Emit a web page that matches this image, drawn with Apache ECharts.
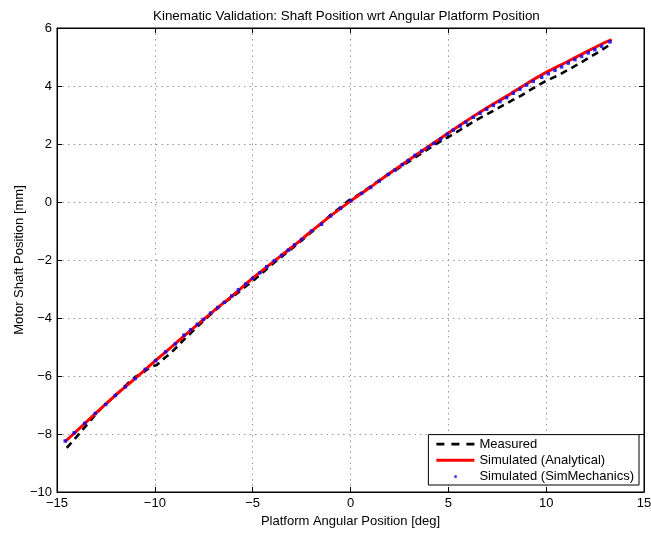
<!DOCTYPE html>
<html>
<head>
<meta charset="utf-8">
<title>Kinematic Validation</title>
<script src="https://cdn.jsdelivr.net/npm/echarts@6/dist/echarts.min.js"></script>
<style>
  html, body { margin: 0; padding: 0; background: #fff; }
  #chart { width: 651px; height: 533px; }
</style>
</head>
<body>
<div id="chart"></div>
<script>
// measured shaft position (black dashed)
const measuredX = [-14.5, -14.2, -14.0, -13.6, -13.3, -13.0, -12.6, -12.2, -11.8, -11.4, -11.0, -10.6, -10.2, -9.9, -9.5, -9.2, -8.8, -8.5, -8.1, -7.7, -7.3, -6.9, -6.5, -6.1, -5.7, -5.3, -4.9, -4.5, -4.1, -3.7, -3.3, -2.9, -2.5, -2.1, -1.7, -1.3, -0.9, -0.5, -0.1, 0.3, 0.7, 1.1, 1.5, 1.9, 2.3, 2.7, 3.1, 3.5, 3.9, 4.3, 4.7, 5.1, 5.5, 5.9, 6.3, 6.7, 7.1, 7.5, 7.9, 8.3, 8.7, 9.1, 9.5, 9.9, 10.3, 10.7, 11.1, 11.5, 11.9, 12.3, 12.7, 13.0, 13.35];
const measuredY = [-8.48, -8.25, -8.10, -7.78, -7.55, -7.30, -7.02, -6.78, -6.53, -6.27, -6.03, -5.88, -5.68, -5.62, -5.38, -5.22, -4.95, -4.74, -4.48, -4.22, -3.97, -3.72, -3.50, -3.30, -3.10, -2.88, -2.67, -2.44, -2.20, -1.98, -1.77, -1.55, -1.33, -1.10, -0.86, -0.62, -0.38, -0.18, 0.05, 0.20, 0.38, 0.57, 0.76, 0.94, 1.10, 1.27, 1.44, 1.62, 1.80, 1.97, 2.13, 2.28, 2.44, 2.61, 2.78, 2.93, 3.07, 3.22, 3.37, 3.52, 3.66, 3.83, 3.99, 4.14, 4.27, 4.40, 4.55, 4.70, 4.86, 5.02, 5.18, 5.31, 5.47];

// analytical model (red)
const analyticalX = [-14.6, -14, -13, -12, -11, -10, -9, -8, -7, -6, -5, -4, -3, -2, -1, 0, 1, 2, 3, 4, 5, 6, 7, 8, 9, 10, 11, 12, 13, 13.35];
const analyticalY = [-8.27, -7.90, -7.27, -6.66, -6.08, -5.49, -4.91, -4.33, -3.76, -3.21, -2.63, -2.09, -1.56, -1.01, -0.47, 0.03, 0.50, 0.99, 1.46, 1.92, 2.38, 2.83, 3.26, 3.66, 4.08, 4.47, 4.81, 5.16, 5.50, 5.60];

// SimMechanics samples (blue dots)
const simX = [-14.58, -14.12, -13.58, -13.04, -12.51, -12.02, -11.51, -11.01, -10.49, -9.96, -9.45, -8.95, -8.51, -8.17, -7.83, -7.52, -7.15, -6.79, -6.45, -6.07, -5.73, -5.36, -5.0, -4.63, -4.28, -3.89, -3.52, -3.18, -2.86, -2.50, -1.99, -1.48, -1.02, -0.51, 0.02, 0.57, 1.03, 1.47, 1.93, 2.27, 2.65, 2.95, 3.30, 3.64, 3.98, 4.28, 4.61, 4.95, 5.25, 5.60, 5.90, 6.28, 6.62, 6.96, 7.30, 7.64, 7.98, 8.32, 8.66, 9.00, 9.34, 9.77, 10.11, 10.45, 10.79, 11.13, 11.47, 11.81, 12.15, 12.49, 12.83, 13.26];
const simY = [-8.24, -7.96, -7.63, -7.29, -6.98, -6.67, -6.37, -6.09, -5.77, -5.47, -5.17, -4.89, -4.59, -4.41, -4.22, -4.05, -3.83, -3.64, -3.46, -3.24, -3.03, -2.83, -2.63, -2.44, -2.23, -2.03, -1.84, -1.66, -1.48, -1.29, -1.0, -0.77, -0.48, -0.22, 0.04, 0.30, 0.50, 0.72, 0.95, 1.10, 1.29, 1.43, 1.61, 1.76, 1.89, 2.02, 2.17, 2.34, 2.48, 2.62, 2.75, 2.92, 3.06, 3.20, 3.33, 3.46, 3.60, 3.75, 3.89, 4.03, 4.16, 4.30, 4.42, 4.54, 4.66, 4.79, 4.91, 5.02, 5.14, 5.25, 5.37, 5.52];

const xTicks = { min: -15, max: 15, step: 5 };
const yTicks = { min: -10, max: 6, step: 2 };

const zip = (xs, ys) => xs.map((x, i) => [x, ys[i]]);
const FONT = '"Liberation Sans", Arial, Helvetica, sans-serif';
const minus = v => String(v).replace('-', '\u2212');

let myChart = echarts.init(document.getElementById('chart'), null, { renderer: 'canvas' });

const tick = { show: true, inside: true, length: 5, lineStyle: { color: '#000', width: 1 } };
const axLine = { show: true, onZero: false, lineStyle: { color: '#000', width: 1 } };
const grid = { show: true, lineStyle: { color: '#999', width: 1, type: [1.5, 4] } };

// legend glyphs: box 38x12 fixed by the two leading moves
const iconDash = 'path://M0,0M38,12M0,4.7h8v2.6h-8zM15,4.7h8v2.6h-8zM30,4.7h8v2.6h-8z';
const iconLine = 'path://M0,0M38,12M0,4.5h38v3h-38z';
const iconDot = 'path://M0,0M38,12M17.8,4.8h2.6v2.6h-2.6z';

let option = {
  animation: false,
  backgroundColor: '#fff',
  title: {
    text: 'Kinematic Validation: Shaft Position wrt Angular Platform Position',
    left: 148,
    top: 5,
    textStyle: { fontFamily: FONT, fontSize: 13.4, fontWeight: 'normal', color: '#000' }
  },
  grid: {
    left: 57, right: 7, top: 28, bottom: 41,
    outerBoundsMode: 'none',
    containLabel: false,
    show: true, borderColor: '#000', borderWidth: 1, backgroundColor: '#fff'
  },
  legend: {
    orient: 'vertical',
    right: 12,
    bottom: 48,
    backgroundColor: '#fff',
    borderColor: '#000',
    borderWidth: 1,
    borderRadius: 0,
    padding: [3, 5, 2, 8],
    itemWidth: 38,
    itemHeight: 12,
    itemGap: 3.2,
    textStyle: { fontFamily: FONT, fontSize: 13, color: '#000' },
    data: [
      { name: 'Measured', icon: iconDash },
      { name: 'Simulated (Analytical)', icon: iconLine },
      { name: 'Simulated (SimMechanics)', icon: iconDot }
    ]
  },
  xAxis: [
    {
      type: 'value', position: 'bottom',
      min: xTicks.min, max: xTicks.max, interval: xTicks.step,
      name: 'Platform Angular Position [deg]', nameLocation: 'middle', nameGap: 23,
      nameMoveOverlap: false,
      nameTextStyle: { fontFamily: FONT, fontSize: 13, color: '#000' },
      axisLine: axLine, axisTick: tick, splitLine: grid,
      axisLabel: { fontFamily: FONT, fontSize: 13, color: '#000', margin: 5, formatter: minus }
    },
    {
      type: 'value', position: 'top',
      min: xTicks.min, max: xTicks.max, interval: xTicks.step,
      axisLine: axLine, axisTick: tick, splitLine: { show: false }, axisLabel: { show: false }
    }
  ],
  yAxis: [
    {
      type: 'value', position: 'left',
      min: yTicks.min, max: yTicks.max, interval: yTicks.step,
      name: 'Motor Shaft Position [mm]', nameLocation: 'middle', nameGap: 31,
      nameMoveOverlap: false,
      nameTextStyle: { fontFamily: FONT, fontSize: 13, color: '#000' },
      axisLine: axLine, axisTick: tick, splitLine: grid,
      axisLabel: { fontFamily: FONT, fontSize: 13, color: '#000', margin: 5, formatter: minus }
    },
    {
      type: 'value', position: 'right',
      min: yTicks.min, max: yTicks.max, interval: yTicks.step,
      axisLine: axLine, axisTick: tick, splitLine: { show: false }, axisLabel: { show: false }
    }
  ],
  series: [
    {
      name: 'Measured',
      type: 'line',
      data: zip(measuredX, measuredY),
      showSymbol: false,
      symbol: 'none',
      lineStyle: { color: '#000', width: 2.6, type: [7, 5] },
      itemStyle: { color: '#000' },
      z: 2
    },
    {
      name: 'Simulated (Analytical)',
      type: 'line',
      data: zip(analyticalX, analyticalY),
      showSymbol: false,
      symbol: 'none',
      smooth: 0.3,
      lineStyle: { color: '#ff0000', width: 3 },
      itemStyle: { color: '#ff0000' },
      z: 3
    },
    {
      name: 'Simulated (SimMechanics)',
      type: 'scatter',
      data: zip(simX, simY),
      symbol: 'rect',
      symbolSize: 3.5,
      itemStyle: { color: '#0000ff' },
      z: 4
    }
  ]
};

myChart.setOption(option);
</script>
</body>
</html>
